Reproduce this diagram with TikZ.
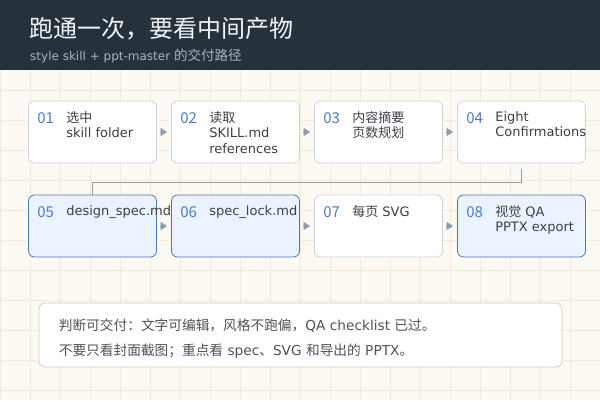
\documentclass[tikz,border=0pt]{standalone}
\usepackage{fontspec}
\setmainfont{DejaVu Sans}
\newfontfamily\zh{Noto Sans CJK SC}
\usetikzlibrary{arrows.meta}
\definecolor{band}{HTML}{26323B}
\definecolor{titlewhite}{HTML}{F2F4F5}
\definecolor{subgray}{HTML}{A9B4BC}
\definecolor{paper}{HTML}{FDFAF3}
\definecolor{gridbeige}{HTML}{F3EADB}
\definecolor{boxline}{HTML}{C9D4E0}
\definecolor{hlline}{HTML}{4A78B5}
\definecolor{hlfill}{HTML}{EAF3FF}
\definecolor{numblue}{HTML}{4A7CC9}
\definecolor{ink}{HTML}{3B4046}
\definecolor{arrowgray}{HTML}{8E9DA8}
\definecolor{notebeige}{HTML}{D8CDB5}
\tikzstyle{every node}=[font=\fontsize{13}{15.5}\selectfont,inner sep=0pt]
\tikzstyle{stage}=[rectangle,
                   rounded corners=6pt,
                   line width=0.8pt,
                   minimum width=128pt,
                   minimum height=62pt,
                   draw=boxline,
                   fill=white]
\tikzstyle{stagehl}=[stage,
                     draw=hlline,
                     fill=hlfill]
\tikzstyle{num}=[anchor=west,text=numblue,font=\fontsize{15}{18}\zh]
\tikzstyle{steptext}=[anchor=north west,text=ink,align=left]
\tikzstyle{flow}=[draw=arrowgray,line width=0.6pt,shorten <=3pt,shorten >=4pt]
\tikzstyle{notebox}=[rectangle,
                     rounded corners=6pt,
                     line width=0.8pt,
                     draw=notebeige,
                     fill=white,
                     minimum width=523pt,
                     minimum height=64pt]
\tikzstyle{notetext}=[anchor=west,
                      text=ink!90,
                      align=left,
                      font=\fontsize{13.7}{25.5}\selectfont]

\begin{document}
\begin{tikzpicture}[x=1pt,y=-1pt,node distance=143pt,>={Triangle[length=6.5pt,width=8pt]}]
\useasboundingbox (0,0) rectangle (600,400);
\fill[paper] (0,0) rectangle (600,400);
\draw[gridbeige,line width=0.7pt,step=30pt] (0,60) grid (600,400);
\fill[band] (0,0) rectangle (600,69.5);
\node (title) [anchor=west,text=titlewhite,font=\fontsize{24}{28}\zh] at (29,29) {跑通一次，要看中间产物};
\node (subtitle) [anchor=west,text=subgray,font=\fontsize{12}{15}\selectfont] at (30,56) {style skill + ppt-master {\zh\fontsize{13.5}{15}\selectfont 的交付路径}};

\node (S_1) [stage] at (92.5,132) {};
\node (S_2) [stage,right of=S_1] {};
\node (S_3) [stage,right of=S_2] {};
\node (S_4) [stage,right of=S_3] {};
\node (S_5) [stagehl,below of=S_1,node distance=94pt] {};
\node (S_6) [stagehl,right of=S_5] {};
\node (S_7) [stage,right of=S_6] {};
\node (S_8) [stagehl,right of=S_7] {};

\node (N_1) [num] at ([xshift=9pt,yshift=-18pt]S_1.north west) {01};
\node (N_2) [num] at ([xshift=9pt,yshift=-18pt]S_2.north west) {02};
\node (N_3) [num] at ([xshift=9pt,yshift=-18pt]S_3.north west) {03};
\node (N_4) [num] at ([xshift=9pt,yshift=-18pt]S_4.north west) {04};
\node (N_5) [num] at ([xshift=9pt,yshift=-18pt]S_5.north west) {05};
\node (N_6) [num] at ([xshift=9pt,yshift=-18pt]S_6.north west) {06};
\node (N_7) [num] at ([xshift=9pt,yshift=-18pt]S_7.north west) {07};
\node (N_8) [num] at ([xshift=9pt,yshift=-18pt]S_8.north west) {08};

\node (T_1) [steptext] at ([xshift=38pt,yshift=-10.5pt]S_1.north west) {{\zh 选中}\\skill folder};
\node (T_2) [steptext] at ([xshift=38pt,yshift=-10.5pt]S_2.north west) {{\zh 读取}\\SKILL.md\\references};
\node (T_3) [steptext] at ([xshift=38pt,yshift=-10.5pt]S_3.north west) {{\zh 内容摘要}\\{\zh 页数规划}};
\node (T_4) [steptext] at ([xshift=38pt,yshift=-10.5pt]S_4.north west) {Eight\\Confirmations};
\node (T_5) [steptext] at ([xshift=38pt,yshift=-10.5pt]S_5.north west) {design\_spec.md};
\node (T_6) [steptext] at ([xshift=38pt,yshift=-10.5pt]S_6.north west) {spec\_lock.md};
\node (T_7) [steptext] at ([xshift=38pt,yshift=-10.5pt]S_7.north west) {{\zh 每页} SVG};
\node (T_8) [steptext] at ([xshift=38pt,yshift=-10.5pt]S_8.north west) {{\zh 视觉} QA\\PPTX export};

\path[->] (S_1) edge[flow] (S_2);
\path[->] (S_2) edge[flow] (S_3);
\path[->] (S_3) edge[flow] (S_4);
\path[->] (S_5) edge[flow] (S_6);
\path[->] (S_6) edge[flow] (S_7);
\path[->] (S_7) edge[flow] (S_8);
\draw[arrowgray,line width=1.3pt] ([yshift=-6pt]S_4.south) |- ([yshift=12pt]S_5.north) -- (S_5.north);

\node (note) [notebox] at (300.5,335) {};
\node (notetext) [notetext] at ([xshift=20pt,yshift=-3.5pt]note.west) {{\zh 判断可交付：文字可编辑，风格不跑偏，}QA checklist {\zh 已过。}\\{\zh 不要只看封面截图；重点看} spec{\zh 、}SVG {\zh 和导出的} PPTX{\zh 。}};
\end{tikzpicture}
\end{document}
